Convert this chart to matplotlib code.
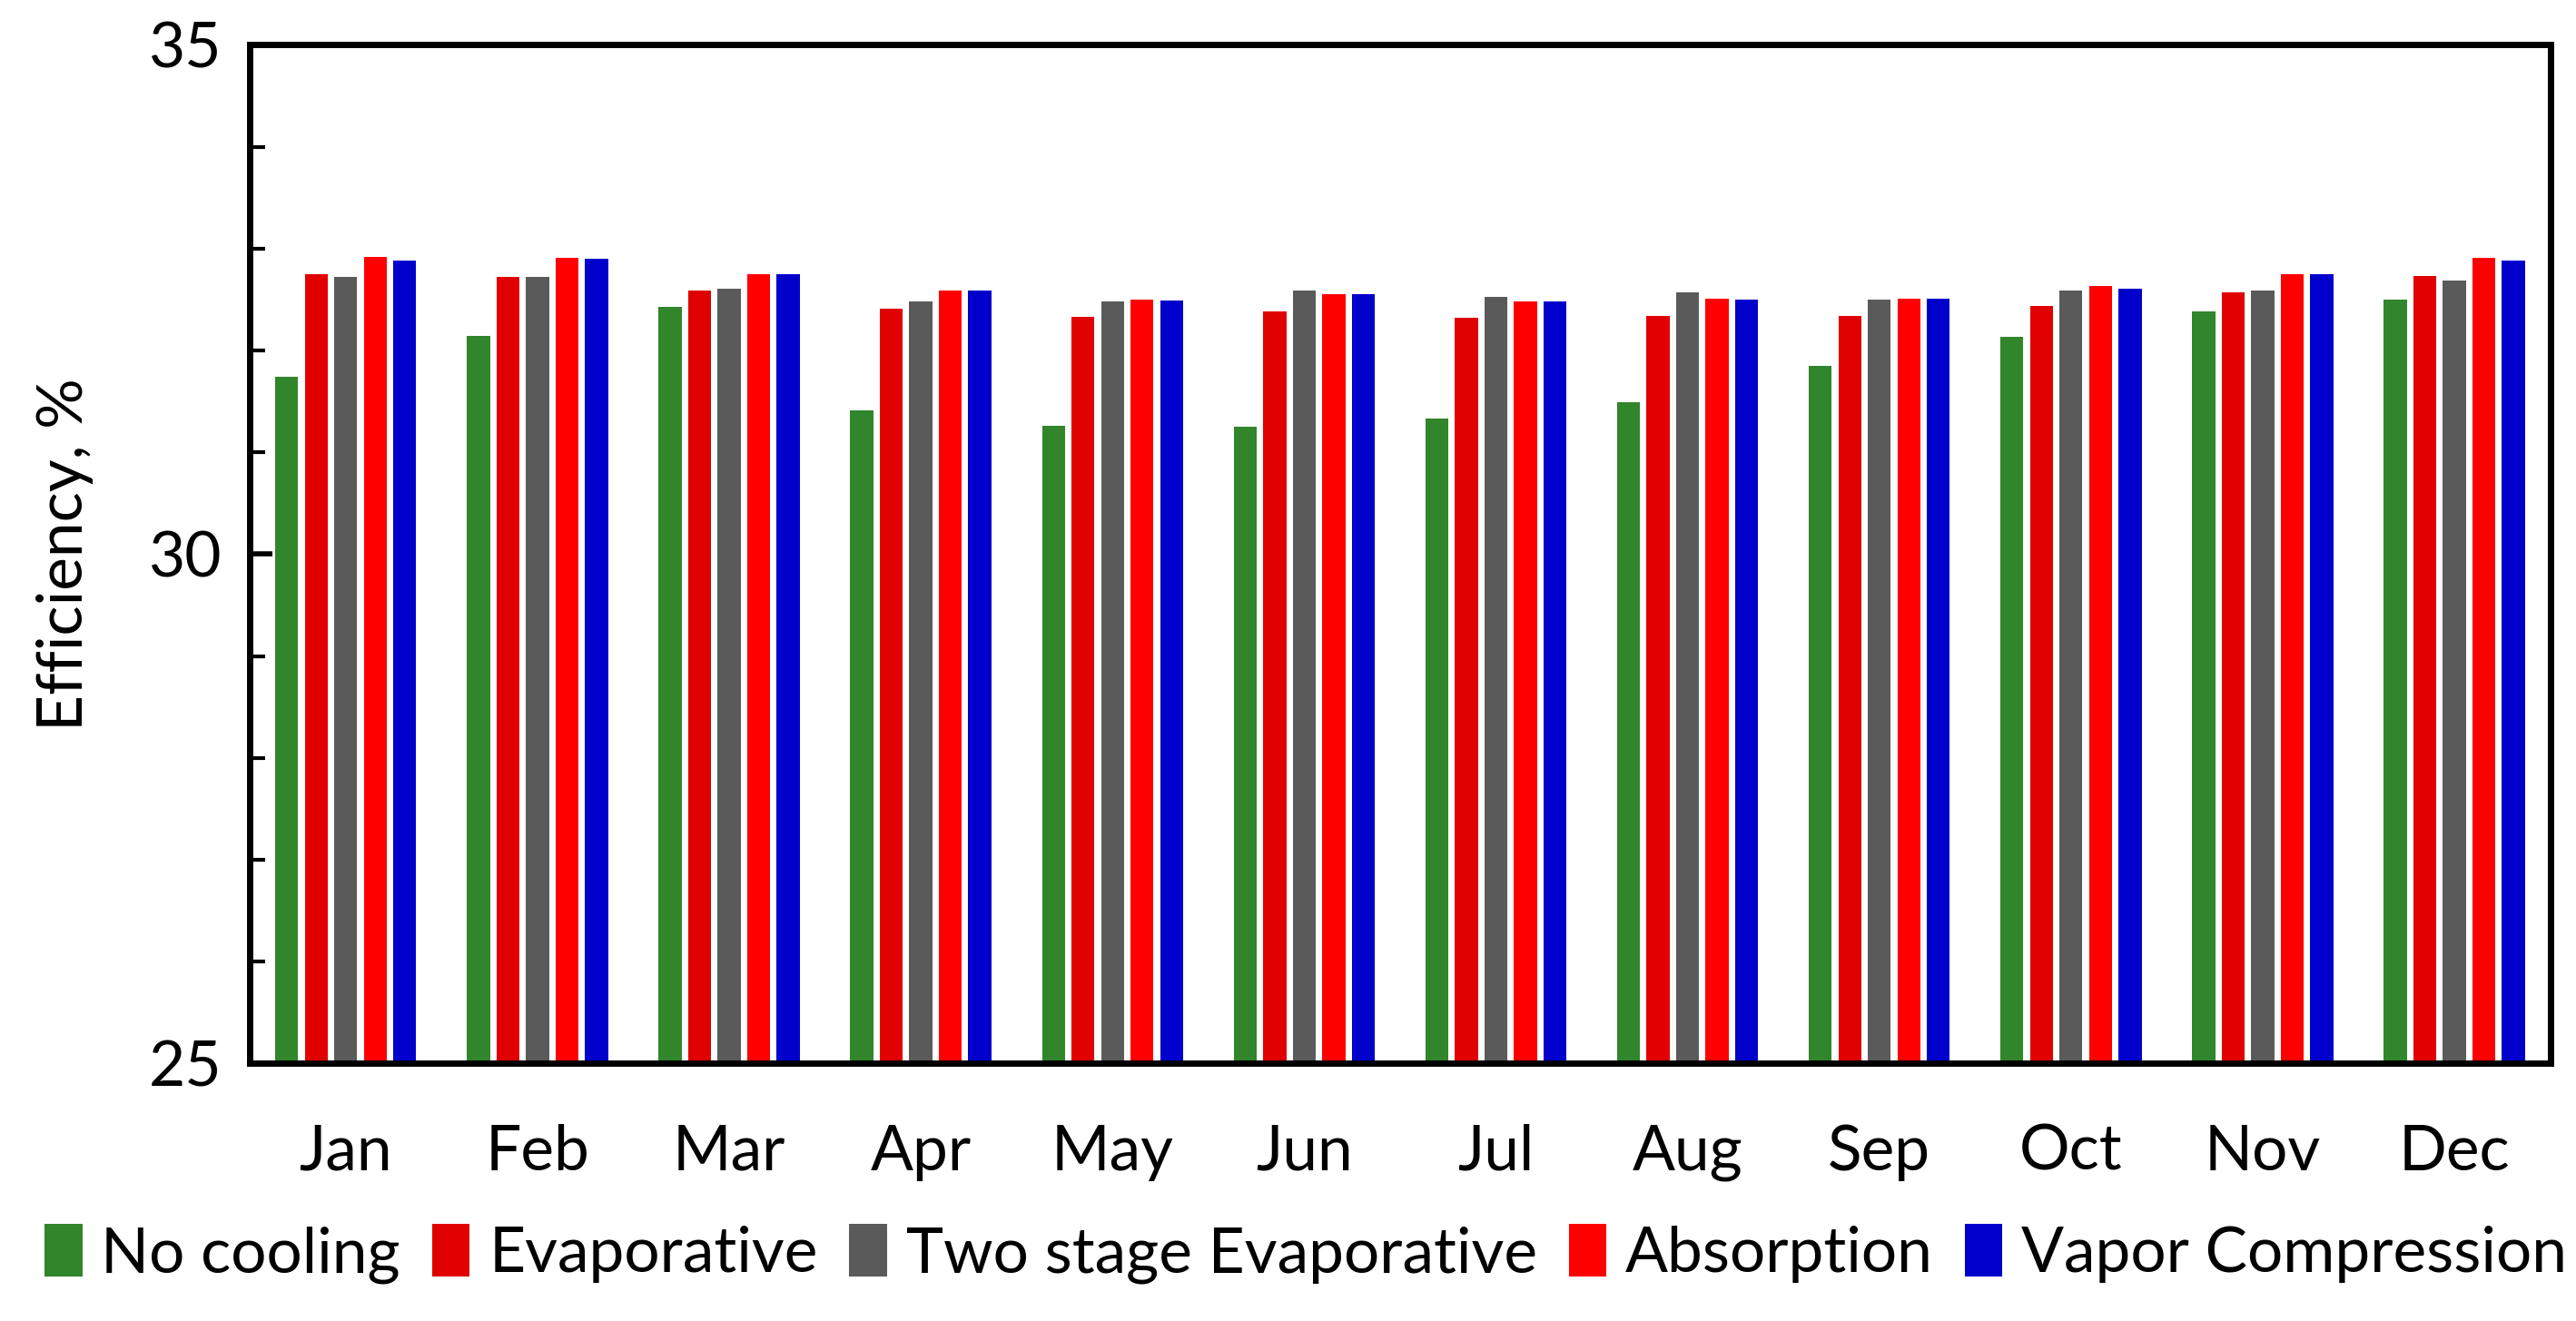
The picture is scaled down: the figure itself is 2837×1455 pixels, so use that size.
import numpy as np
import matplotlib
matplotlib.use("Agg")
import matplotlib.pyplot as plt
from matplotlib.ticker import MultipleLocator

plt.rcParams['font.family'] = ['Lato', 'DejaVu Sans']

months = ['Jan', 'Feb', 'Mar', 'Apr', 'May', 'Jun',
          'Jul', 'Aug', 'Sep', 'Oct', 'Nov', 'Dec']

no_cooling = [31.74, 32.14, 32.43, 31.41, 31.26, 31.25, 31.33, 31.49, 31.85, 32.13, 32.38, 32.50]
evaporative = [32.75, 32.72, 32.59, 32.41, 32.33, 32.38, 32.32, 32.34, 32.34, 32.44, 32.57, 32.73]
two_stage = [32.72, 32.72, 32.61, 32.48, 32.48, 32.59, 32.53, 32.57, 32.50, 32.59, 32.59, 32.69]
absorption = [32.92, 32.91, 32.75, 32.59, 32.50, 32.55, 32.48, 32.51, 32.51, 32.63, 32.75, 32.91]
vapor_comp = [32.88, 32.90, 32.75, 32.59, 32.49, 32.55, 32.48, 32.50, 32.51, 32.61, 32.75, 32.88]

series = [
    ('No cooling', no_cooling, '#31852b'),
    ('Evaporative', evaporative, '#e00000'),
    ('Two stage Evaporative', two_stage, '#5a5a5a'),
    ('Absorption', absorption, '#ff0000'),
    ('Vapor Compression', vapor_comp, '#0000cc'),
]

fig = plt.figure(figsize=(14.185, 7.275), dpi=200)
ax = fig.add_axes([0.097, 0.195, 0.893, 0.771])

x = np.arange(len(months))
step = 0.154
width = 0.12
for i, (name, vals, col) in enumerate(series):
    ax.bar(x + (i - 2) * step, np.array(vals) - 25, width=width, bottom=25,
           color=col, label=name)

ax.set_xlim(-0.5, 11.5)
ax.set_ylim(25, 35)
ax.yaxis.set_major_locator(MultipleLocator(5))
ax.yaxis.set_minor_locator(MultipleLocator(1))
ax.set_xticks(x)
ax.set_xticklabels(months)
ax.tick_params(axis='x', length=0, pad=24, labelsize=25)
ax.tick_params(axis='y', which='major', direction='in', length=9, width=2, pad=11, labelsize=25)
ax.tick_params(axis='y', which='minor', direction='in', length=6, width=1.5)
for s in ax.spines.values():
    s.set_linewidth(2.5)
ax.set_ylabel('Efficiency, %', fontsize=25, labelpad=22)

ax.legend(loc='upper center', bbox_to_anchor=(0.459, -0.133), ncol=5, frameon=False,
          fontsize=25, handlelength=0.6, handleheight=0.9, handletextpad=0.3,
          columnspacing=0.5, borderaxespad=0)

fig.savefig('out.png', dpi=200)
